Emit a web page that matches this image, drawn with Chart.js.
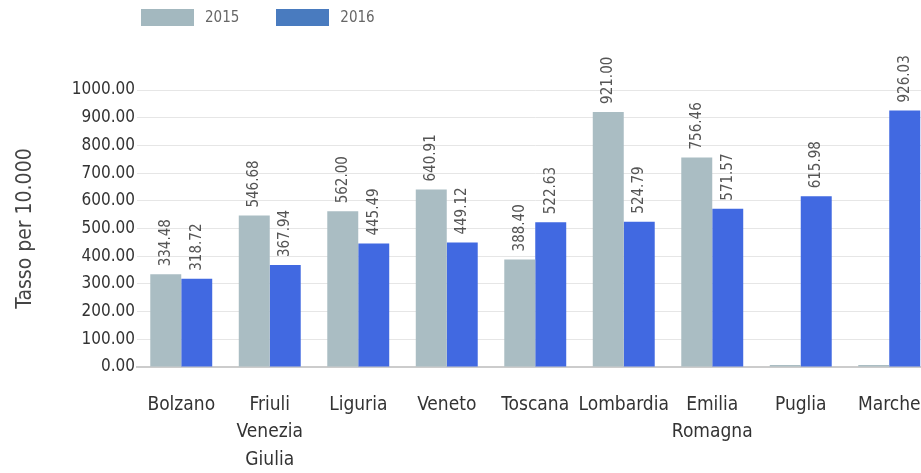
<!DOCTYPE html>
<html>
<head>
<meta charset="utf-8">
<script src="https://cdn.jsdelivr.net/npm/chart.js@4/dist/chart.umd.min.js"></script>
<style>
  body { margin: 0; overflow: hidden; background: #fff; }
  #wrap { position: relative; width: 940px; height: 473px; }
  #legend { position: absolute; left: 141px; top: 8px; display: flex; font-family: 'Liberation Sans Narrow', 'DejaVu Sans Condensed', Roboto, sans-serif; font-size: 15px; color: #666; }
  #legend .item { display: flex; align-items: center; margin-right: 37px; }
  #legend .box { width: 53px; height: 17px; margin-right: 11px; }
</style>
</head>
<body>
<div id="wrap">
  <div id="legend"></div>
  <canvas id="graphTasso"></canvas>
</div>
<script>
// ==== Data ====
var regioni = ['Bolzano', ['Friuli', 'Venezia', 'Giulia'], 'Liguria', 'Veneto', 'Toscana', 'Lombardia', ['Emilia', 'Romagna'], 'Puglia', 'Marche']
var anni = ['2015', '2016']
var tasso2015 = [334.48, 546.68, 562.00, 640.91, 388.40, 921.00, 756.46, 0, 0]
var tasso2016 = [318.72, 367.94, 445.49, 449.12, 522.63, 524.79, 571.57, 615.98, 926.03]
var yTicks = [0, 100, 200, 300, 400, 500, 600, 700, 800, 900, 1000]

var fontFam = "'Liberation Sans Narrow', 'DejaVu Sans Condensed', Roboto, sans-serif"
var barColors = ['#aabdc3', '#4169e1']
var legendColors = ['#a3b8bf', '#497bbf']

// ==== Legend (html) ====
var legendEl = document.getElementById('legend')
anni.forEach(function(a, i){
    var item = document.createElement('div')
    item.className = 'item'
    var box = document.createElement('span')
    box.className = 'box'
    box.style.background = legendColors[i]
    item.appendChild(box)
    item.appendChild(document.createTextNode(a))
    legendEl.appendChild(item)
})

// ==== Value labels above bars, rotated ====
var valueLabels = {
    id: 'valueLabels',
    afterDatasetsDraw: function(chart){
        var ctx = chart.ctx
        ctx.save()
        ctx.font = '15px ' + fontFam
        ctx.fillStyle = '#555'
        ctx.textAlign = 'left'
        ctx.textBaseline = 'middle'
        chart.data.datasets.forEach(function(ds, di){
            var meta = chart.getDatasetMeta(di)
            meta.data.forEach(function(bar, i){
                var v = ds.data[i]
                if (!v) return
                ctx.save()
                ctx.translate(bar.x, bar.y - 8)
                ctx.rotate(-Math.PI / 2)
                ctx.fillText(v.toFixed(2), 0, 0)
                ctx.restore()
            })
        })
        ctx.restore()
    }
}

// ==== Config Graph ====
var config = {
    type: 'bar',
    data: {
        labels: regioni,
        datasets: [
            { label: anni[0], data: tasso2015, backgroundColor: barColors[0], minBarLength: 2 },
            { label: anni[1], data: tasso2016, backgroundColor: barColors[1] },
        ],
    },
    options: {
        animation: false,
        responsive: true,
        maintainAspectRatio: false,
        layout: {
            padding: { top: 90, bottom: 0, left: 0, right: 6.5 }
        },
        datasets: {
            bar: { categoryPercentage: 0.70, barPercentage: 1.0 }
        },
        plugins: {
            legend: false,
            tooltip: { enabled: false }
        },
        scales: {
            x: {
                grid: { display: false },
                border: { color: '#cccccc', width: 2 },
                ticks: {
                    color: '#333',
                    font: { family: fontFam, size: 19, lineHeight: 1.45 },
                    padding: 16,
                    maxRotation: 0,
                    autoSkip: false
                },
                afterFit: function(scale){ scale.height = 106 }
            },
            y: {
                min: 0,
                max: 1000,
                afterBuildTicks: function(scale){
                    scale.ticks = yTicks.map(function(v){ return { value: v } })
                },
                grid: { color: '#e6e6e6', drawTicks: false },
                border: { display: false },
                ticks: {
                    color: '#333',
                    font: { family: fontFam, size: 17 },
                    padding: 2,
                    callback: function(v){ return Number(v).toFixed(2) }
                },
                title: {
                    display: true,
                    text: 'Tasso per 10.000',
                    color: '#444',
                    font: { family: fontFam, size: 21 },
                    padding: { top: 13, bottom: 0 }
                },
                afterFit: function(scale){ scale.width = 137 }
            }
        }
    },
    plugins: [valueLabels]
}

var ctx = document.getElementById('graphTasso').getContext('2d')
new Chart(ctx, config)
</script>
</body>
</html>
